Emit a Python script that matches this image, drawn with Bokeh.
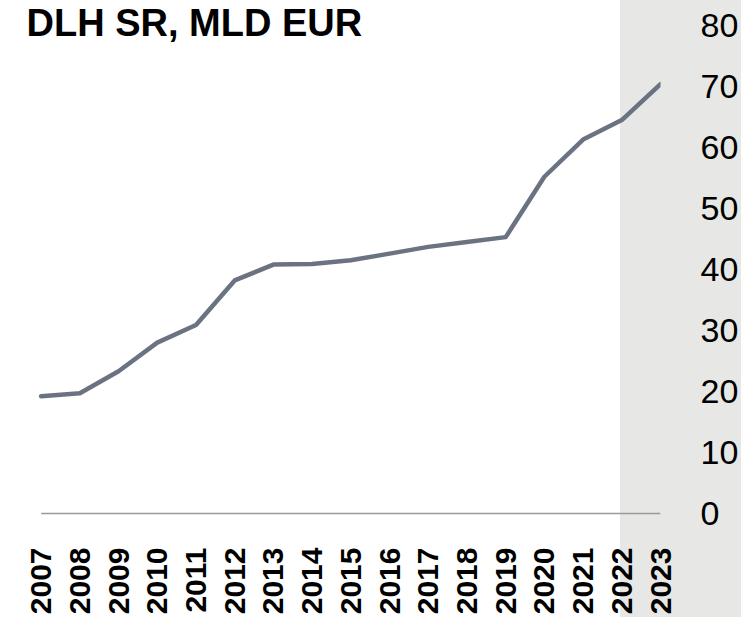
import math
from bokeh.plotting import figure
from bokeh.models import Range1d, FixedTicker, Label
from bokeh.embed import file_html
from bokeh.resources import INLINE

# ---- data ----
years = list(range(2007, 2024))
values = [19.2, 19.7, 23.3, 28.0, 30.9, 38.2, 40.8, 40.9, 41.5, 42.6,
          43.7, 44.5, 45.3, 55.2, 61.3, 64.5, 70.4]
y_ticks = [0, 10, 20, 30, 40, 50, 60, 70, 80]
year_labels = [str(y) for y in years]
title_text = "DLH SR, MLD EUR"

# ---- figure ----
W, H = 741, 617
p = figure(width=W, height=H, output_backend="svg", toolbar_location=None,
           x_range=Range1d(2005.95, 2023), y_range=Range1d(-1, 84.1),
           y_axis_location="right",
           min_border_left=0, min_border_right=75,
           min_border_top=0, min_border_bottom=97)

p.border_fill_color = None
p.background_fill_color = None
p.outline_line_color = None
p.xgrid.grid_line_color = None
p.ygrid.grid_line_color = None
p.styles = {"background": "linear-gradient(to right, #ffffff 0px, #ffffff 620px, #e7e7e5 620px, #e7e7e5 100%)"}

# x axis
xa = p.xaxis[0]
xa.ticker = FixedTicker(ticks=years)
xa.major_label_overrides = {y: s for y, s in zip(years, year_labels)}
xa.major_label_orientation = math.pi / 2
xa.major_label_text_font = "Liberation Sans"
xa.major_label_text_font_style = "bold"
xa.major_label_text_font_size = "30px"
xa.major_label_text_color = "#000000"
xa.major_label_standoff = 22
xa.axis_line_color = None
xa.major_tick_line_color = None
xa.minor_tick_line_color = None

# y axis (right)
ya = p.yaxis[0]
ya.ticker = FixedTicker(ticks=y_ticks)
ya.major_label_text_font = "Liberation Sans"
ya.major_label_text_font_size = "34px"
ya.major_label_text_color = "#000000"
ya.major_label_standoff = 34
ya.axis_line_color = None
ya.major_tick_line_color = None
ya.minor_tick_line_color = None

# category axis baseline at zero, spanning first to last year
p.line([years[0], years[-1]], [y_ticks[0], y_ticks[0]],
       line_color="#9a9a9a", line_width=1.5)

# line
p.line(years, values, line_color="#6b7383", line_width=4.5,
       line_cap="round", line_join="round")

# title
title = Label(x=26, y=497, x_units="screen", y_units="screen",
              text=title_text, text_font="Liberation Sans",
              text_font_style="bold", text_font_size="38px",
              text_color="#000000", text_baseline="alphabetic")
p.add_layout(title)

open("out.html", "w").write(file_html(p, INLINE))
